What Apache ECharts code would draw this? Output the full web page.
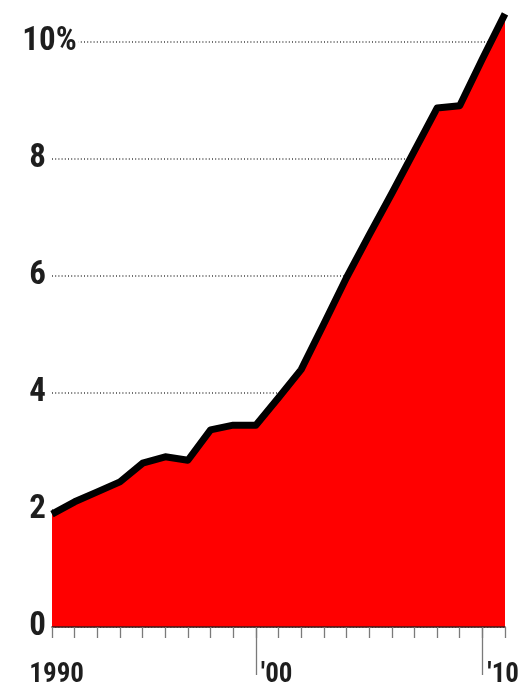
<!DOCTYPE html>
<html>
<head>
<meta charset="utf-8">
<script src="https://cdn.jsdelivr.net/npm/echarts@6/dist/echarts.min.js"></script>
<style>
  html, body { margin: 0; padding: 0; background: #ffffff; }
  #chart { width: 518px; height: 692px; }
</style>
</head>
<body>
<div id="chart"></div>
<script>
// Share of total, per year (percent)
const years = [1991, 1992, 1993, 1994, 1995, 1996, 1997, 1998, 1999, 2000,
               2001, 2002, 2003, 2004, 2005, 2006, 2007, 2008, 2009, 2010, 2011];
const shares = [1.93, 2.14, 2.31, 2.48, 2.80, 2.91, 2.85, 3.37, 3.45, 3.45,
                3.92, 4.40, 5.18, 5.97, 6.70, 7.41, 8.14, 8.87, 8.91, 9.71, 10.48];

// Axis ticks and their labels
const yTicks = [0, 2, 4, 6, 8, 10];
const yTickLabels = ['0', '2', '4', '6', '8', '10%'];
const decadeTicks = [1990, 2000, 2010];
const decadeLabels = ['1990', "'00", "'10"];
const longTicks = [2000, 2010];

const FONT = "'Noto Sans ExtraCondensed', 'Noto Sans Condensed', 'Roboto Condensed', 'Liberation Sans Narrow', 'DejaVu Sans Condensed', sans-serif";
const TEXT = '#1e1e1e';

const chart = echarts.init(document.getElementById('chart'), null, { renderer: 'canvas' });

const yLabel = v => {
  const i = yTicks.indexOf(v);
  return i < 0 ? '' : yTickLabels[i];
};

const option = {
  animation: false,
  backgroundColor: '#ffffff',
  grid: [
    // plot area: 1991 .. 2011
    { left: 52, right: 13, top: 42, bottom: 65, containLabel: false, outerBoundsMode: 'none' },
    // same scale extended one year to the left, carries the decade labels
    { left: 29.35, right: 13, top: 42, bottom: 65, containLabel: false, outerBoundsMode: 'none' }
  ],
  xAxis: [
    {
      gridIndex: 0, type: 'value', min: 1991, max: 2011, interval: 1,
      z: 4,
      axisLine: { show: true, lineStyle: { color: '#3a1a1a', width: 1.5 } },
      axisTick: { show: true, length: 11, lineStyle: { color: '#7a7a7a', width: 1.3 } },
      axisLabel: { show: false },
      splitLine: { show: false }
    },
    {
      gridIndex: 1, type: 'value', min: 1990, max: 2011,
      axisLine: { show: false },
      axisTick: { show: true, customValues: longTicks, length: 48,
                  lineStyle: { color: '#7a7a7a', width: 1.3 } },
      axisLabel: {
        show: true,
        customValues: decadeTicks,
        align: 'left',
        margin: 35,
        hideOverlap: false,
        formatter: v => {
          const i = decadeTicks.indexOf(v);
          if (i < 0) return '';
          return (i === 0 ? '{y|' : '{d|') + decadeLabels[i] + '}';
        },
        rich: {
          y: { fontFamily: FONT, fontSize: 27, fontWeight: 'bold', color: TEXT, padding: [0, 0, 0, 0] },
          d: { fontFamily: FONT, fontSize: 27, fontWeight: 'bold', color: TEXT, padding: [0, 0, 0, 5] }
        }
      },
      splitLine: { show: false }
    }
  ],
  yAxis: [
    {
      gridIndex: 0, type: 'value', min: 0, max: 10, interval: 2,
      axisLine: { show: false },
      axisTick: { show: false },
      axisLabel: {
        show: true, align: 'right', margin: 6,
        fontFamily: FONT, fontSize: 33, fontWeight: 'bold', color: TEXT,
        formatter: v => (v === 10 ? '' : yLabel(v))
      },
      splitLine: { show: true, lineStyle: { color: '#6e6e6e', width: 2, type: [1, 2.2] } }
    },
    {
      gridIndex: 1, type: 'value', min: 0, max: 10, interval: 2,
      z: 5,
      axisLine: { show: false },
      axisTick: { show: false },
      axisLabel: {
        show: true, align: 'left', margin: 7,
        fontFamily: FONT, fontSize: 33, fontWeight: 'bold', color: TEXT,
        backgroundColor: '#ffffff', padding: [0, 2, 0, 0],
        formatter: v => (v === 10 ? yLabel(v) : '')
      },
      splitLine: { show: false }
    }
  ],
  series: [
    {
      type: 'line',
      xAxisIndex: 0,
      yAxisIndex: 0,
      data: years.map((y, i) => [y, shares[i]]),
      symbol: 'none',
      clip: false,
      z: 3,
      lineStyle: { color: '#000000', width: 7, join: 'round', cap: 'butt' },
      areaStyle: { color: '#ff0000', opacity: 1 }
    }
  ]
};

chart.setOption(option);
</script>
</body>
</html>
